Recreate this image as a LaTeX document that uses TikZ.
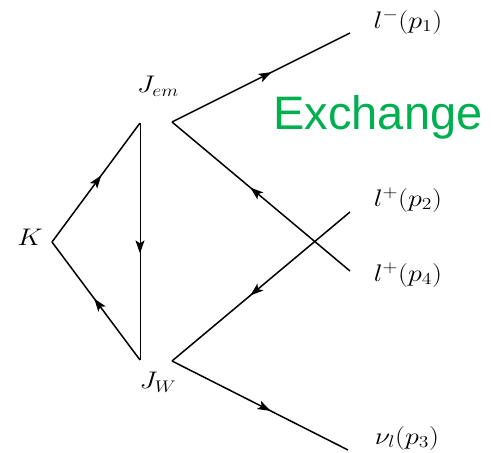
\RequirePackage{fix-cm}
\documentclass[tikz,border=0pt]{standalone}
\usepackage{fontspec}
\usepackage{graphicx}
\newfontfamily\exfont{Liberation Sans}
\usetikzlibrary{decorations.markings,arrows.meta}
\definecolor{exgreen}{RGB}{0,176,80}
\tikzset{
  fermion/.style={line width=1.5pt,
    postaction={decorate},
    decoration={markings,mark=at position #1 with {\arrow{Stealth[length=13pt,width=9pt,inset=3pt]}}}},
  fermion/.default=0.56,
  thinline/.style={line width=0.9pt},
  lbl/.style={inner sep=0pt,font=\fontsize{24}{28}\selectfont},
}
\newcommand{\wide}[1]{\scalebox{1.17}[1]{#1}}
\begin{document}
\begin{tikzpicture}[x=1pt,y=-1pt]
\useasboundingbox (0,0) rectangle (500,452);
\coordinate (K) at (52,242);
\coordinate (A) at (140,123);
\coordinate (B) at (140,360);
\coordinate (C) at (172,122);
\coordinate (D) at (172,361);
\coordinate (P1) at (350,33);
\coordinate (P4) at (350,271);
\coordinate (P2) at (350,212);
\coordinate (P3) at (348,450);

\draw[fermion] (K) -- (A);
\draw[fermion=0.52] (B) -- (K);
\draw[thinline,postaction={decorate},decoration={markings,mark=at position 0.55 with {\arrow{Stealth[length=13pt,width=9pt,inset=3pt]}}}] (A) -- (B);
\draw[fermion] (C) -- (P1);
\draw[fermion] (P4) -- (C);
\draw[fermion] (P2) -- (D);
\draw[fermion] (D) -- (P3);

\node[lbl] (kl) at (30,237) {\wide{$K$}};
\node[lbl] (jem) at (158,86) {\wide{$J_{em}$}};
\node[lbl] (jw) at (158,382) {\wide{$J_W$}};
\node[lbl] (l1) at (408,22) {\wide{$l^-(p_1)$}};
\node[lbl] (l2) at (408,200) {\wide{$l^+(p_2)$}};
\node[lbl] (l4) at (408,275) {\wide{$l^+(p_4)$}};
\node[lbl] (nu) at (407,438) {\wide{$\nu_l(p_3)$}};
\node[inner sep=0pt,text=exgreen,font=\exfont\fontsize{47}{51}\selectfont] (ex) at (378,117) {Exchange};
\end{tikzpicture}
\end{document}
